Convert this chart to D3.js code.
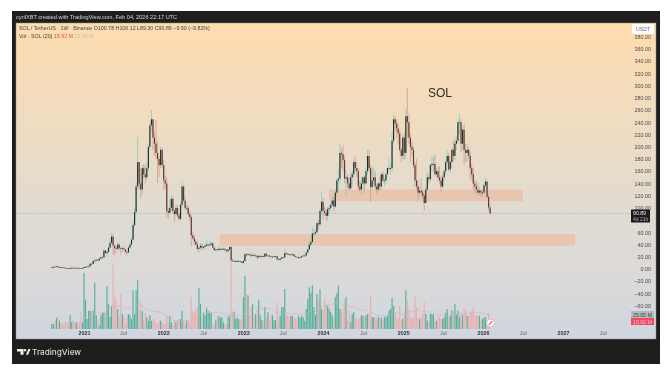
<!DOCTYPE html>
<html>
<head>
<meta charset="utf-8">
<script src="https://cdn.jsdelivr.net/npm/d3@7"></script>
<style>
	html, body { margin: 0; padding: 0; background: #fff; overflow: hidden; }
	svg { display: block; font-family: 'Liberation Sans', Arial, sans-serif; filter: blur(0.35px); }
</style>
</head>
<body>
<script>
var firstWeek = '2020-08-10';
var firstOpen = 3.0;

// weekly candles
var closes = [
	3.2,3.6,3.4,4.6,3.0,3.1,2.9,2.6,1.9,1.6,1.5,1.3,1.6,2.1,1.9,1.8,2.1,1.7,1.6,1.5,1.5,
	3.4,3.6,4.0,4.3, 8.5,8.2,13,14, 15,14,17,19,19, 30,26,28,35, 43,53,38,34,33, 40,34,33,34,
	32,28,27,35, 40,48,72,93,135, 175,140,130,165, 155,150,165,200, 235,245,215,205,190, 180,170,195,170,
	145,140,95,92,100, 115,95,90,100, 88,82,105,135, 112,100,100,90, 85,55,50,45,40, 33,35,38,35,
	36,38,40,40, 40,42,35,31,32, 31,33,33,33, 33,31,29,32,36, 14,13,13,13, 13,13,12,10,
	13,24,23,24,23, 22,23,22,22, 19,21,21,21, 20,25,22,22, 21,20,20,21,21, 16,15,17,19,
	19,26,25,24,23, 24,24,21,20, 19,19,19,21, 22,22,27,32,40, 44,58,58,60, 75,73,95,110,
	95,92,87,98,100, 105,112,102,125, 145,148,190,188, 178,148,150,140,132, 150,155,175,165, 160,135,130,140,
	150,140,160,185,165, 134,145,150,135, 130,140,135,155,145, 145,155,165,165, 165,210,245,238, 230,222,195,185,215,
	190,250,240,215, 200,195,170,145, 135,125,128,125,120, 108,130,150,147, 170,172,172,155, 160,150,145,135,150,
	160,175,185,163, 175,195,185,205, 210,240,240,205,228, 195,190,195,185, 165,155,140,135, 130,125,128,125,125,
	137,143,118,100.78,90.89
];
var highs = [
	3.9,4.9,3.9,5.0,4.7,3.6,3.3,3.0,2.7,2.0,1.8,1.7,1.9,2.4,2.3,2.1,2.3,2.2,1.9,1.8,1.8,
	3.8,4.2,4.6,5.0, 9.5,10,15,17, 17,17,18,21,21, 33,32,30,38, 50,59,58,40,38, 44,42,36,37,
	37,33,30,38, 44,52,78,100,142, 216,175,165,170, 172,170,175,205, 240,260,245,225,243, 210,185,200,198,
	178,152,150,100,115, 122,118,98,105, 105,92,110,143, 137,118,105,105, 95,88,60,55,48, 45,35,42,42,
	38,42,46,41, 45,45,44,36,33, 34,38,34,35, 35,34,32,33,38, 38,17,15,15, 15,15,13,12.5,
	15,26,26,26,25, 26,25,26,24, 22,23,24,23, 22,26,26,23, 23,22,21,22,22, 21,17,18,20,
	20,32,28,26,25, 25,26,24,22, 21,20,21,22, 24,23,28,33,46, 48,68,65,65, 78,80,98,126,
	116,102,100,102,105, 110,118,118,130, 148,162,205,198, 203,185,162,155,150, 158,160,180,185, 175,165,145,150,
	152,152,165,195,195, 170,168,165,160, 140,142,150,158,160, 150,158,168,182, 172,225,252,250, 245,238,228,198,220,
	222,262,296,255, 222,208,200,175, 180,145,135,148,130, 122,136,158,155, 172,185,184,188, 165,168,168,152,155,
	163,178,195,190, 178,198,210,215, 218,245,253,245,232, 238,205,205,200, 192,172,165,145, 145,140,135,130,130,
	140,149,145,122,106.12
];
var lows = [
	2.8,3.0,3.0,3.2,2.7,2.7,2.6,2.3,1.8,1.5,1.4,1.2,1.2,1.5,1.7,1.6,1.7,1.6,1.4,1.3,1.3,
	1.5,2.8,3.3,3.5, 4.2,7.5,8,11, 13,13,13,16,17, 19,24,20,26, 33,40,24,22,27, 33,30,24,28,
	30,25,22,26, 33,38,46,68,92, 130,130,115,120, 148,140,145,160, 195,225,195,185,180, 140,150,165,165,
	130,130,85,82,90, 95,90,78,85, 85,78,80,100, 110,95,95,85, 78,37,48,38,38, 30,26,31,32,
	31,33,37,36, 37,38,34,30,29, 30,30,30,30, 31,29,27,28,31, 12,12,11,12, 12,12,11,9.5,
	9.5,13,20,21,21, 20,20,21,21, 16,17,19,20, 19,20,20,20, 20,19,19,19,20, 14,14,14,16,
	18,19,23,23,22, 22,23,19,19, 18,17,18,18, 21,21,21,26,32, 38,44,52,55, 58,64,70,90,
	80,88,80,78,92, 95,102,94,100, 120,130,140,165, 160,140,118,132,128, 130,135,150,160, 150,128,125,122,
	130,125,138,155,160, 110,130,138,130, 122,127,128,130,142, 135,140,155,160, 155,160,205,225, 215,205,190,175,180,
	178,180,215,205, 175,185,165,135, 130,112,122,120,115, 95,108,128,140, 143,160,158,152, 150,145,140,125,132,
	145,153,170,160, 158,165,175,178, 195,205,220,190,195, 170,175,175,180, 145,148,130,122, 125,120,120,118,120,
	122,132,115,96,89.30
];
// volume in millions
var volumes = [
	8,8,11,18,19,13,8,10,10,11,
	10,11,22,11,16,10,11,10,11,27,
	10,90,46,16,29,29,29,29,74,22,
	16,6,22,26,26,26,69,40,19,37,
	105,51,45,32,19,56,24,19,8,19,
	24,22,16,62,24,62,78,32,43,29,
	16,26,19,13,22,13,16,16,10,8,
	13,13,10,8,10,22,10,21,11,6,
	14,11,14,13,16,29,13,8,13,13,
	10,51,29,26,32,35,66,40,19,26,
	22,34,29,26,26,8,6,14,19,21,
	18,19,10,8,8,19,22,108,29,27,
	16,19,16,14,16,51,85,56,54,22,
	35,40,22,24,32,46,22,14,13,35,
	19,27,13,22,22,14,14,42,16,21,
	35,35,64,22,21,19,21,21,18,18,
	18,21,18,21,19,13,32,48,67,58,
	70,35,22,56,48,64,32,29,48,40,
	37,32,27,22,16,51,58,69,32,26,
	32,48,51,13,30,11,24,27,19,16,
	16,19,22,21,21,22,24,24,53,19,
	19,18,16,19,19,18,13,19,19,21,
	29,32,50,37,27,19,16,37,14,16,
	29,62,45,32,19,19,16,53,35,18,
	16,19,24,43,24,14,11,24,24,24,
	16,13,22,19,16,16,19,26,32,19,
	22,30,27,40,24,30,19,27,22,34,
	30,21,22,27,29,34,21,22,22,21,
	14,16,18,19,13,26,15.92
];

var priceTicks = [380,360,340,320,300,280,260,240,220,200,180,160,140,120,100,60,40,20,0,-20,-40,-60];
var timeTicks = ['2021-01-04','2021-07-01','2022-01-01','2022-07-01','2023-01-01','2023-07-01','2024-01-01','2024-07-01','2025-01-01','2025-07-01','2026-01-01','2026-07-01','2027-01-01','2027-07-01'];
var timeLabels = ['2021','Jul','2022','Jul','2023','Jul','2024','Jul','2025','Jul','2026','Jul','2027','Jul'];
var zoneStarts = ['2024-01-28','2022-09-17'];
var zoneEnds = ['2026-07-02','2027-02-25'];
var zoneTops = [130,57];
var zoneBottoms = [111,38];

var width = 667;
var height = 372;
var frameLeft = 12;
var frameTop = 11;
var frameRight = 660;
var frameBottom = 364;
var chartLeft = 16;
var chartTop = 23;
var chartRight = 656;
var chartBottom = 339;
var volumeBase = 329;
var barWidth = 1.15;

var upWick = '#8fc8b8';
var downWick = '#d09a8e';
var upBody = '#16302b';
var downBody = '#5e3430';
var upVolume = '#55b09a';
var downVolume = '#ecaeb0';

function parseDay(text) {
	return d3.utcParse('%Y-%m-%d')(text);
}

var candles = closes.map(function(close, i) {
	return {
		date: d3.utcDay.offset(parseDay(firstWeek), i * 7),
		open: i === 0 ? firstOpen : closes[i - 1],
		close: close,
		high: highs[i],
		low: lows[i],
		volume: volumes[i]
	};
});

var xScale = d3.scaleUtc()
	.domain([parseDay('2021-01-04'), parseDay('2026-01-05')])
	.range([84, 484]);

var yScale = d3.scaleLinear()
	.domain([0, 360])
	.range([269, 49]);

var volumeScale = d3.scaleLinear()
	.domain([0, 160])
	.range([volumeBase, volumeBase - 100]);

var svg = d3.select('body').append('svg')
	.attr('width', width)
	.attr('height', height);

var gradient = svg.append('defs').append('linearGradient')
	.attr('id', 'paneFill')
	.attr('x1', 0).attr('x2', 0).attr('y1', 0).attr('y2', 1);
[['0%', '#fedcae'], ['30%', '#f0dcc0'], ['62%', '#dfdbd3'], ['80%', '#dcdad8'], ['100%', '#cfd5e0']].forEach(function(stop) {
	gradient.append('stop').attr('offset', stop[0]).attr('stop-color', stop[1]);
});

svg.append('rect')
	.attr('x', frameLeft).attr('y', frameTop)
	.attr('width', frameRight - frameLeft).attr('height', frameBottom - frameTop)
	.attr('fill', '#1e1e1e');

svg.append('rect')
	.attr('x', chartLeft).attr('y', chartTop)
	.attr('width', chartRight - chartLeft).attr('height', chartBottom - chartTop)
	.attr('fill', 'url(#paneFill)')
	.attr('stroke', '#8c8c8c')
	.attr('stroke-width', 0.5);

// support zones
svg.append('g').selectAll('rect')
	.data(zoneStarts).enter()
	.append('rect')
	.attr('x', function(d) { return xScale(parseDay(d)); })
	.attr('y', function(d, i) { return yScale(zoneTops[i]); })
	.attr('width', function(d, i) { return xScale(parseDay(zoneEnds[i])) - xScale(parseDay(d)); })
	.attr('height', function(d, i) { return yScale(zoneBottoms[i]) - yScale(zoneTops[i]); })
	.attr('fill', '#e8c5ae');

// last price line
svg.append('line')
	.attr('x1', chartLeft).attr('x2', 631)
	.attr('y1', yScale(90.89)).attr('y2', yScale(90.89))
	.attr('stroke', '#a89a90')
	.attr('stroke-width', 0.6)
	.attr('stroke-dasharray', '1,1.2');

// volume
svg.append('g').selectAll('rect')
	.data(candles).enter()
	.append('rect')
	.attr('x', function(d) { return xScale(d.date) - barWidth / 2; })
	.attr('y', function(d) { return volumeScale(d.volume); })
	.attr('width', barWidth)
	.attr('height', function(d) { return volumeBase - volumeScale(d.volume); })
	.attr('fill', function(d) { return d.close >= d.open ? upVolume : downVolume; });

// Vol (20) average
var volumeAverage = d3.line()
	.defined(function(d, i) { return i >= 19; })
	.x(function(d) { return xScale(d.date); })
	.y(function(d, i) {
		return volumeScale(d3.mean(volumes.slice(i - 19, i + 1)));
	});

svg.append('path')
	.attr('d', volumeAverage(candles))
	.attr('fill', 'none')
	.attr('stroke', '#cfb4b0')
	.attr('stroke-width', 0.6);

// candles
var candleGroup = svg.append('g');

candleGroup.selectAll('line')
	.data(candles).enter()
	.append('line')
	.attr('x1', function(d) { return xScale(d.date); })
	.attr('x2', function(d) { return xScale(d.date); })
	.attr('y1', function(d) { return yScale(d.high); })
	.attr('y2', function(d) { return yScale(d.low); })
	.attr('stroke', function(d) { return d.close >= d.open ? upWick : downWick; })
	.attr('stroke-width', 0.8);

candleGroup.selectAll('rect')
	.data(candles).enter()
	.append('rect')
	.attr('x', function(d) { return xScale(d.date) - barWidth / 2; })
	.attr('y', function(d) { return yScale(Math.max(d.open, d.close)); })
	.attr('width', barWidth)
	.attr('height', function(d) { return Math.max(0.8, Math.abs(yScale(d.open) - yScale(d.close))); })
	.attr('fill', function(d) { return d.close >= d.open ? upBody : downBody; });

// axes
var rightAxis = d3.axisRight(yScale)
	.tickValues(priceTicks)
	.tickSize(0)
	.tickPadding(0)
	.tickFormat(function(d) { return d3.format('.2f')(d).replace('-', '\u2212'); });

var priceAxis = svg.append('g')
	.attr('transform', 'translate(651,0)')
	.call(rightAxis);
priceAxis.select('.domain').remove();
priceAxis.selectAll('text')
	.attr('text-anchor', 'end')
	.attr('font-size', 5.4)
	.attr('font-family', 'Liberation Sans')
	.attr('fill', '#4a4a4a');

var bottomAxis = d3.axisBottom(xScale)
	.tickValues(timeTicks.map(parseDay))
	.tickSize(0)
	.tickPadding(0)
	.tickFormat(function(d, i) { return timeLabels[i]; });

var timeAxis = svg.append('g')
	.attr('transform', 'translate(0,331)')
	.call(bottomAxis);
timeAxis.select('.domain').remove();
timeAxis.selectAll('text')
	.attr('font-size', 5.4)
	.attr('font-family', 'Liberation Sans')
	.attr('font-weight', function(d, i) { return timeLabels[i] === 'Jul' ? 'normal' : 'bold'; })
	.attr('fill', function(d, i) { return timeLabels[i] === 'Jul' ? '#666' : '#333'; });

// price and volume tags
svg.append('rect').attr('x', 632).attr('y', 24).attr('width', 22).attr('height', 10).attr('rx', 1).attr('fill', '#fff');
svg.append('text').attr('x', 643).attr('y', 30.8).attr('text-anchor', 'middle').attr('font-size', 5.2).attr('fill', '#666').text('USDT');

svg.append('rect').attr('x', 631).attr('y', 209.5).attr('width', 19).attr('height', 13).attr('fill', '#1c1c1c');
svg.append('text').attr('x', 633).attr('y', 215).attr('font-size', 5.2).attr('fill', '#e8e8e8').text('90.89');
svg.append('text').attr('x', 633).attr('y', 221).attr('font-size', 5).attr('fill', '#aaa').text('4d 21h');

svg.append('rect').attr('x', 631).attr('y', 311).attr('width', 23).attr('height', 7).attr('fill', '#b4b7bd');
svg.append('text').attr('x', 633).attr('y', 316.5).attr('font-size', 5.2).attr('fill', '#444').text('25.05 M');
svg.append('rect').attr('x', 631).attr('y', 318).attr('width', 23).attr('height', 7).attr('fill', '#ee4b62');
svg.append('text').attr('x', 633).attr('y', 323.5).attr('font-size', 5.2).attr('fill', '#fbd').text('15.92 M');

// event marker at the last bar
svg.append('circle').attr('cx', 490.5).attr('cy', 323).attr('r', 3.8).attr('fill', '#fff').attr('stroke', '#e9a0a0').attr('stroke-width', 0.6);
svg.append('line').attr('x1', 488.8).attr('x2', 492.2).attr('y1', 324.8).attr('y2', 321.2).attr('stroke', '#d9534f').attr('stroke-width', 1.1);

// header and legend
svg.append('text').attr('x', 16).attr('y', 19).attr('font-size', 5.6).attr('fill', '#d8d8d8')
	.text('cyrilXBT created with TradingView.com, Feb 04, 2026 22:17 UTC');
svg.append('text').attr('x', 19).attr('y', 30).attr('font-size', 5.3).attr('fill', '#444')
	.text('SOL / TetherUS \u00b7 1W \u00b7 Binance O100.78 H106.12 L89.30 C90.89 \u22129.90 (\u22129.82%)');
var volumeLegend = svg.append('text').attr('x', 19).attr('y', 37.5).attr('font-size', 5.3).attr('fill', '#444');
volumeLegend.append('tspan').text('Vol \u00b7 SOL (20) ');
volumeLegend.append('tspan').attr('fill', '#d9534f').text('15.92 M ');
volumeLegend.append('tspan').attr('fill', '#c9bfb0').text('25.05 M');

svg.append('text').attr('x', 440).attr('y', 97).attr('text-anchor', 'middle').attr('font-size', 12).attr('fill', '#2a2a2a').text('SOL');

// TradingView mark
var logo = svg.append('g').attr('fill', '#f0f0f0');
logo.append('path').attr('d', 'M17 349h6.5v5.8h-3v-3.3h-3.5z');
logo.append('circle').attr('cx', 25).attr('cy', 350.2).attr('r', 1.2);
logo.append('path').attr('d', 'M26 354.8l2.3-5.8h2.2l-2.4 5.8z');
svg.append('text').attr('x', 32).attr('y', 355).attr('font-size', 8.2).attr('font-family', 'Inter').attr('font-weight', 500).attr('fill', '#d8d8d8').text('TradingView');
</script>
</body>
</html>
